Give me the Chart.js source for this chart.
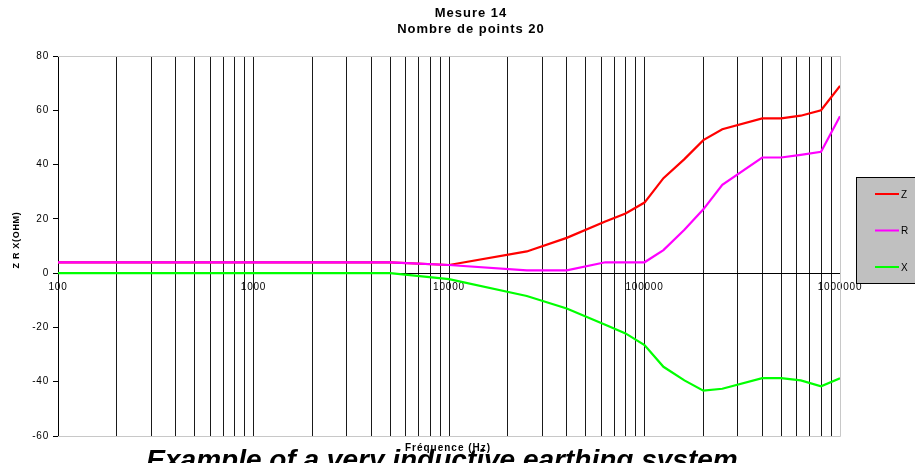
<!DOCTYPE html>
<html><head><meta charset="utf-8">
<script src="https://cdn.jsdelivr.net/npm/chart.js@4"></script>
<style>html,body{margin:0;padding:0;background:#fff;overflow:hidden}</style>
</head><body>
<canvas id="c" width="915" height="463"></canvas>
<script>
// ---- data ----
const frequencies = [100, 5000, 10000, 25000, 40000, 63000, 80000, 100000, 125000, 160000, 200000, 250000, 400000, 500000, 630000, 800000, 1000000];
const zValues = [4, 4, 3, 8, 13, 19, 22, 26, 35, 42, 49, 53, 57, 57, 58, 60, 69];
const rValues = [4, 4, 3, 1, 1, 4, 4, 4, 8.5, 16, 23.5, 32.5, 42.6, 42.6, 43.6, 44.7, 57.8];
const xValues = [0, 0, -2.2, -8.4, -13, -19, -22.2, -26.5, -34.5, -39.5, -43.3, -42.6, -38.7, -38.7, -39.5, -41.7, -38.7];
const seriesNames = ['Z', 'R', 'X'];
const seriesColors = ['#ff0000', '#ff00ff', '#00ff00'];
const gridFrequencies = [100,200,300,400,500,600,700,800,900,1000,2000,3000,4000,5000,6000,7000,8000,9000,10000,20000,30000,40000,50000,60000,70000,80000,90000,100000,200000,300000,400000,500000,600000,700000,800000,900000,1000000];
const xTickLabels = ['100', '1000', '10000', '100000', '1000000'];
const yTicks = [80, 60, 40, 20, 0, -20, -40, -60];
const titleLines = ['Mesure 14', 'Nombre de points 20'];
const xTitle = 'Fréquence (Hz)';
const yTitle = 'Z R X(OHM)';
const caption = 'Example of a very inductive earthing system';

const FONT = "'Liberation Sans', Arial, sans-serif";
const toPoints = vals => frequencies.map((f, i) => ({x: f, y: vals[i]}));
const allSeries = [zValues, rValues, xValues];
const drawOrder = [2, 1, 3];

const textPlugin = {
  id: 'texts',
  beforeDraw(chart) { chart.ctx.letterSpacing = '0.8px'; },
  beforeDatasetsDraw(chart) {
    const {ctx, chartArea: a} = chart;
    ctx.save();
    ctx.strokeStyle = '#c8c8c8';
    ctx.lineWidth = 1;
    ctx.beginPath();
    ctx.moveTo(a.left, a.top + 0.5); ctx.lineTo(a.right + 0.5, a.top + 0.5);
    ctx.lineTo(a.right + 0.5, a.bottom + 0.5); ctx.lineTo(a.left, a.bottom + 0.5);
    ctx.stroke();
    ctx.restore();
  },
  afterDraw(chart) {
    const ctx = chart.ctx;
    ctx.save();
    ctx.fillStyle = '#000';
    ctx.textAlign = 'center';
    ctx.textBaseline = 'alphabetic';
    ctx.letterSpacing = '1px';
    ctx.font = 'bold 13px ' + FONT;
    ctx.fillText(titleLines[0], 471, 17);
    ctx.fillText(titleLines[1], 471, 33);
    // y title
    ctx.save();
    ctx.translate(19, 240);
    ctx.rotate(-Math.PI / 2);
    ctx.font = 'bold 9px ' + FONT;
    ctx.letterSpacing = '0.7px';
    ctx.fillText(yTitle, 0, 0);
    ctx.restore();
    // caption
    ctx.letterSpacing = '0px';
    ctx.font = 'italic bold 28px ' + FONT;
    ctx.fillText(caption, 442, 469);
    // x title
    ctx.letterSpacing = '1px';
    ctx.font = 'bold 10px ' + FONT;
    ctx.fillText(xTitle, 448, 451);
    // legend
    const lx = 856, ly = 177;
    ctx.fillStyle = '#c0c0c0';
    ctx.fillRect(lx, ly, 70, 106);
    ctx.strokeStyle = '#000';
    ctx.lineWidth = 1;
    ctx.strokeRect(lx + 0.5, ly + 0.5, 70, 106);
    ctx.font = '10px ' + FONT;
    ctx.textAlign = 'left';
    ctx.textBaseline = 'middle';
    ctx.letterSpacing = '0px';
    chart.data.datasets.forEach((ds, i) => {
      const y = ly + 17 + i * 36.5;
      ctx.strokeStyle = ds.borderColor;
      ctx.lineWidth = 2;
      ctx.beginPath(); ctx.moveTo(875, y); ctx.lineTo(899, y); ctx.stroke();
      ctx.fillStyle = '#000';
      ctx.fillText(ds.label, 901, y + 1);
    });
    ctx.restore();
  }
};

new Chart(document.getElementById('c'), {
  type: 'line',
  data: {
    datasets: seriesNames.map((n, i) => ({
      label: n,
      data: toPoints(allSeries[i]),
      borderColor: seriesColors[i],
      backgroundColor: seriesColors[i],
      borderWidth: 2.2,
      pointRadius: 0,
      tension: 0,
      fill: false,
      order: drawOrder[i]
    }))
  },
  options: {
    responsive: false,
    animation: false,
    devicePixelRatio: 1,
    layout: {padding: {top: 56, right: 75, bottom: 27, left: 0}},
    plugins: {legend: {display: false}, title: {display: false}, tooltip: {enabled: false}},
    scales: {
      x: {
        type: 'logarithmic',
        position: {y: 0},
        min: 100, max: 1000000,
        afterBuildTicks: s => { s.ticks = gridFrequencies.map(v => ({value: v})); },
        afterFit: s => { s.height = 0; },
        ticks: {
          autoSkip: false, maxRotation: 0, minRotation: 0,
          font: {family: FONT, size: 10}, color: '#000', padding: 8,
          callback: v => { const s = String(v); return xTickLabels.includes(s) ? s : ''; }
        },
        grid: {
          drawTicks: false, lineWidth: 1,
          color: c => (c.tick && c.tick.value === 1000000) ? '#c8c8c8' : '#1a1a1a'
        },
        border: {display: true, color: '#000', width: 1}
      },
      y: {
        type: 'linear',
        min: -60, max: 80,
        afterBuildTicks: s => { s.ticks = yTicks.map(v => ({value: v})); },
        afterFit: s => { s.width = 58; },
        ticks: {font: {family: FONT, size: 10}, color: '#000', padding: 4},
        grid: {drawOnChartArea: false, drawTicks: true, tickLength: 5, color: '#000'},
        border: {display: true, color: '#000', width: 1},
        title: {display: false}
      }
    }
  },
  plugins: [textPlugin]
});
</script>
</body></html>
